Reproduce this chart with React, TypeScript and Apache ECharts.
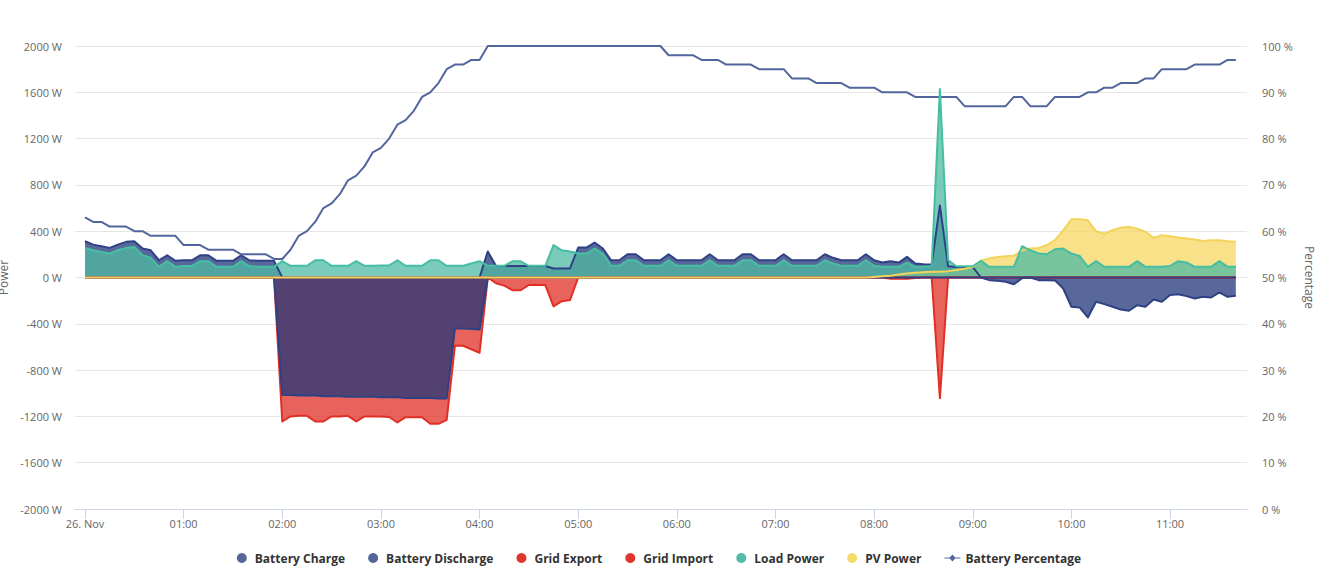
import React, { useEffect, useRef } from "react";
import * as echarts from "echarts";

// sampling: one reading every 5 minutes from 00:00 (26. Nov)
const START_MIN = 0;
const STEP_MIN = 5;

const hourTicks = [0, 60, 120, 180, 240, 300, 360, 420, 480, 540, 600, 660];
const hourLabels = ["26. Nov", "01:00", "02:00", "03:00", "04:00", "05:00", "06:00", "07:00", "08:00", "09:00", "10:00", "11:00"];

const batteryPercentage = [
  63, 62, 62, 61, 61, 61, 60, 60, 59, 59,
  59, 59, 57, 57, 57, 56, 56, 56, 56, 55,
  55, 55, 55, 54, 54, 56, 59, 60, 62, 65,
  66, 68, 71, 72, 74, 77, 78, 80, 83, 84,
  86, 89, 90, 92, 95, 96, 96, 97, 97, 100,
  100, 100, 100, 100, 100, 100, 100, 100, 100, 100,
  100, 100, 100, 100, 100, 100, 100, 100, 100, 100,
  100, 98, 98, 98, 98, 97, 97, 97, 96, 96,
  96, 96, 95, 95, 95, 95, 93, 93, 93, 92,
  92, 92, 92, 91, 91, 91, 91, 90, 90, 90,
  90, 89, 89, 89, 89, 89, 89, 87, 87, 87,
  87, 87, 87, 89, 89, 87, 87, 87, 89, 89,
  89, 89, 90, 90, 91, 91, 92, 92, 92, 93,
  93, 95, 95, 95, 95, 96, 96, 96, 96, 97, 97,
];

const batteryDischarge = [
  313, 284, 270, 256, 284, 308, 313, 250, 235, 149,
  192, 144, 149, 149, 192, 192, 144, 144, 144, 192,
  149, 144, 144, 144, 0, 0, 0, 0, 0, 0,
  0, 0, 0, 0, 0, 0, 0, 0, 0, 0,
  0, 0, 0, 0, 0, 0, 0, 0, 0, 225,
  100, 100, 100, 100, 100, 100, 100, 78, 78, 78,
  259, 259, 302, 250, 149, 149, 201, 201, 149, 149,
  149, 201, 149, 149, 149, 149, 201, 149, 149, 149,
  201, 201, 149, 149, 149, 201, 149, 149, 149, 149,
  201, 170, 149, 149, 149, 201, 149, 129, 140, 129,
  178, 121, 115, 112, 623, 97, 90, 90, 90, 0,
  0, 0, 0, 0, 0, 0, 0, 0, 0, 0,
  0, 0, 0, 0, 0, 0, 0, 0, 0, 0,
  0, 0, 0, 0, 0, 0, 0, 0, 0, 0, 0,
];

const batteryCharge = [
  0, 0, 0, 0, 0, 0, 0, 0, 0, 0,
  0, 0, 0, 0, 0, 0, 0, 0, 0, 0,
  0, 0, 0, 0, -1015, -1015, -1020, -1020, -1020, -1025,
  -1025, -1025, -1030, -1030, -1030, -1030, -1035, -1035, -1035, -1040,
  -1040, -1040, -1040, -1045, -1045, -440, -440, -445, -450, 0,
  0, 0, 0, 0, 0, 0, 0, 0, 0, 0,
  0, 0, 0, 0, 0, 0, 0, 0, 0, 0,
  0, 0, 0, 0, 0, 0, 0, 0, 0, 0,
  0, 0, 0, 0, 0, 0, 0, 0, 0, 0,
  0, 0, 0, 0, 0, 0, 0, 0, 0, 0,
  0, 0, 0, 0, 0, 0, 0, 0, 0, 0,
  -23, -29, -37, -58, -5, 0, -23, -23, -25, -95,
  -253, -259, -345, -210, -230, -253, -276, -287, -239, -253,
  -190, -210, -152, -144, -161, -181, -167, -172, -129, -167, -158,
];

const gridImport = [
  0, 0, 0, 0, 0, 0, 0, 0, 0, 0,
  0, 0, 0, 0, 0, 0, 0, 0, 0, 0,
  0, 0, 0, 0, -1244, -1200, -1195, -1195, -1244, -1244,
  -1200, -1200, -1195, -1244, -1200, -1200, -1200, -1205, -1253, -1207,
  -1207, -1207, -1264, -1264, -1230, -590, -590, -620, -650, 0,
  -50, -70, -110, -110, -65, -65, -65, -250, -205, -195,
  0, 0, 0, 0, 0, 0, 0, 0, 0, 0,
  0, 0, 0, 0, 0, 0, 0, 0, 0, 0,
  0, 0, 0, 0, 0, 0, 0, 0, 0, 0,
  0, 0, 0, 0, 0, 0, 0, 0, -10, -10,
  -10, -5, 0, 0, -1043, 0, 0, 0, 0, 0,
  0, 0, 0, 0, 0, 0, 0, 0, 0, 0,
  0, 0, 0, 0, 0, 0, 0, 0, 0, 0,
  0, 0, 0, 0, 0, 0, 0, 0, 0, 0, 0,
];

const gridExport = [
  0, 0, 0, 0, 0, 0, 0, 0, 0, 0,
  0, 0, 0, 0, 0, 0, 0, 0, 0, 0,
  0, 0, 0, 0, 0, 0, 0, 0, 0, 0,
  0, 0, 0, 0, 0, 0, 0, 0, 0, 0,
  0, 0, 0, 0, 0, 0, 0, 0, 0, 0,
  0, 0, 0, 0, 0, 0, 0, 0, 0, 0,
  0, 0, 0, 0, 0, 0, 0, 0, 0, 0,
  0, 0, 0, 0, 0, 0, 0, 0, 0, 0,
  0, 0, 0, 0, 0, 0, 0, 0, 0, 0,
  0, 0, 0, 0, 0, 0, 0, 0, 0, 0,
  0, 0, 0, 0, 0, 0, 0, 0, 0, 0,
  0, 0, 0, 0, 0, 0, 0, 0, 0, 0,
  0, 0, 0, 0, 0, 0, 0, 0, 0, 0,
  0, 0, 0, 0, 0, 0, 0, 0, 0, 0, 0,
];

const loadPower = [
  256, 235, 221, 207, 235, 256, 264, 192, 170, 92,
  141, 92, 99, 99, 141, 141, 92, 92, 92, 141,
  99, 92, 92, 92, 141, 101, 101, 101, 149, 149,
  101, 101, 101, 141, 101, 101, 104, 104, 149, 101,
  101, 101, 149, 149, 101, 101, 101, 121, 141, 101,
  101, 101, 140, 140, 101, 101, 101, 280, 235, 225,
  207, 207, 250, 207, 101, 101, 149, 149, 101, 101,
  101, 149, 101, 101, 101, 101, 149, 101, 101, 101,
  149, 149, 101, 101, 101, 149, 101, 101, 101, 101,
  149, 122, 101, 101, 101, 149, 101, 92, 92, 92,
  129, 92, 92, 100, 1629, 150, 97, 97, 97, 144,
  92, 92, 92, 92, 270, 235, 207, 200, 244, 250,
  207, 187, 92, 141, 92, 92, 92, 92, 141, 92,
  92, 92, 100, 141, 130, 92, 92, 92, 141, 92, 92,
];

const pvPower = [
  0, 0, 0, 0, 0, 0, 0, 0, 0, 0,
  0, 0, 0, 0, 0, 0, 0, 0, 0, 0,
  0, 0, 0, 0, 0, 0, 0, 0, 0, 0,
  0, 0, 0, 0, 0, 0, 0, 0, 0, 0,
  0, 0, 0, 0, 0, 0, 0, 0, 0, 0,
  0, 0, 0, 0, 0, 0, 0, 0, 0, 0,
  0, 0, 0, 0, 0, 0, 0, 0, 0, 0,
  0, 0, 0, 0, 0, 0, 0, 0, 0, 0,
  0, 0, 0, 0, 0, 0, 0, 0, 0, 0,
  0, 0, 0, 0, 0, 0, 5, 10, 15, 25,
  35, 40, 45, 50, 50, 55, 65, 75, 90, 145,
  165, 178, 183, 187, 235, 250, 255, 279, 322, 408,
  503, 503, 494, 399, 379, 408, 431, 437, 422, 394,
  342, 365, 356, 345, 336, 328, 316, 322, 322, 313, 308,
];

const FONT = "'Open Sans', 'Noto Sans', sans-serif";

const toXY = (arr: number[]) => arr.map((v, i) => [START_MIN + i * STEP_MIN, v]);

const areaSeries = (
  name: string,
  data: number[],
  line: string,
  fill: string,
  opacity = 0.75
) => ({
  name,
  type: "line",
  data: toXY(data),
  yAxisIndex: 0,
  symbol: "none",
  showSymbol: false,
  lineStyle: { width: 2, color: line, join: "round" },
  itemStyle: { color: line },
  areaStyle: { color: fill, opacity },
  emphasis: { disabled: true },
});

const COL_BAT_LINE = "#2f4185";
const COL_BAT_FILL = "#213579";
const COL_RED = "#e02f24";
const COL_LOAD = "#4db9a3";
const COL_PV = "#f5d761";
const COL_PCT = "#53659d";

const option: any = {
  animation: false,
  textStyle: { fontFamily: FONT },
  grid: { left: 75, right: 71, top: 46, bottom: 62, containLabel: false, outerBoundsMode: "none" },
  legend: {
    top: 547,
    left: "center",
    itemWidth: 16,
    itemHeight: 10,
    itemGap: 23,
    selectedMode: false,
    textStyle: { fontFamily: FONT, fontWeight: "bold", fontSize: 12, color: "#333333" },
    data: [
      { name: "Battery Charge", icon: "circle", itemStyle: { color: "#55669b", borderWidth: 0 } },
      { name: "Battery Discharge", icon: "circle", itemStyle: { color: "#55669b", borderWidth: 0 } },
      { name: "Grid Export", icon: "circle", itemStyle: { color: "#e0352b", borderWidth: 0 } },
      { name: "Grid Import", icon: "circle", itemStyle: { color: "#e0352b", borderWidth: 0 } },
      { name: "Load Power", icon: "circle", itemStyle: { color: "#52bba5", borderWidth: 0 } },
      { name: "PV Power", icon: "circle", itemStyle: { color: "#f4d96c", borderWidth: 0 } },
      {
        name: "Battery Percentage",
        icon: "path://M0,4.4 H5.2 L8,1.6 L10.8,4.4 H16 V5.6 H10.8 L8,8.4 L5.2,5.6 H0 Z",
        itemStyle: { color: COL_PCT, borderWidth: 0 },
      },
    ],
  },
  xAxis: {
    type: "value",
    min: -6.08,
    max: 706.8,
    axisLine: { show: true, onZero: false, lineStyle: { color: "#ccd6eb", width: 1 } },
    axisTick: { show: true, length: 10, customValues: hourTicks, lineStyle: { color: "#ccd6eb" } },
    axisLabel: {
      customValues: hourTicks,
      color: "#666666",
      fontSize: 11,
      margin: 9,
      fontFamily: FONT,
      formatter: (v: number) => hourLabels[hourTicks.indexOf(Math.round(v))] ?? "",
    },
    splitLine: { show: false },
  },
  yAxis: [
    {
      type: "value",
      min: -2000,
      max: 2000,
      interval: 400,
      name: "Power",
      nameLocation: "middle",
      nameRotate: 90,
      nameGap: 64,
      nameTextStyle: { color: "#666666", fontSize: 12, fontFamily: FONT },
      axisLine: { show: false },
      axisTick: { show: false },
      axisLabel: {
        formatter: (v: number) => `${v} W`,
        color: "#666666",
        fontSize: 11,
        margin: 13,
        fontFamily: FONT,
      },
      splitLine: { show: true, lineStyle: { color: "#e6e6e6", width: 1 } },
    },
    {
      type: "value",
      min: 0,
      max: 100,
      interval: 10,
      position: "right",
      name: "Percentage",
      nameLocation: "middle",
      nameRotate: -90,
      nameGap: 49,
      nameTextStyle: { color: "#666666", fontSize: 12, fontFamily: FONT },
      axisLine: { show: false },
      axisTick: { show: false },
      axisLabel: { formatter: (v: number) => `${v} %`, color: "#666666", fontSize: 11, margin: 15, fontFamily: FONT },
      splitLine: { show: false },
    },
  ],
  series: [
    areaSeries("Grid Export", gridExport, COL_RED, COL_RED),
    areaSeries("Grid Import", gridImport, COL_RED, COL_RED),
    areaSeries("Battery Charge", batteryCharge, COL_BAT_LINE, COL_BAT_FILL),
    areaSeries("Battery Discharge", batteryDischarge, COL_BAT_LINE, COL_BAT_FILL),
    {
      name: "Battery Percentage",
      type: "line",
      yAxisIndex: 1,
      data: toXY(batteryPercentage),
      symbol: "diamond",
      showSymbol: false,
      lineStyle: { width: 2, color: COL_PCT, join: "round" },
      itemStyle: { color: COL_PCT },
      emphasis: { disabled: true },
    },
    areaSeries("PV Power", pvPower, "#f3d35a", COL_PV),
    areaSeries("Load Power", loadPower, "#45bea2", COL_LOAD),
  ],
};

export default function App() {
  const ref = useRef<HTMLDivElement>(null);
  useEffect(() => {
    if (!ref.current) return;
    const chart = echarts.init(ref.current, null, { renderer: "svg" });
    chart.setOption(option);
    return () => chart.dispose();
  }, []);
  return (
    <div
      ref={ref}
      style={{ position: "absolute", left: 0, top: 0, width: 1318, height: 571, background: "#ffffff" }}
    />
  );
}
